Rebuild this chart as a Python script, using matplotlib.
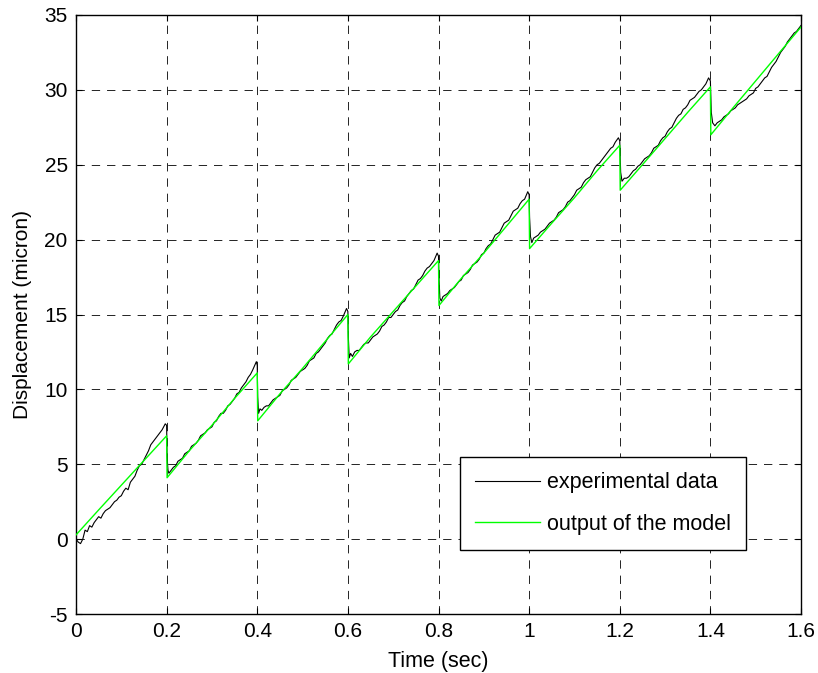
import matplotlib
matplotlib.use("Agg")
import matplotlib.pyplot as plt

# ---------------- data ----------------
exp_t = [0.000, 0.005, 0.010, 0.015, 0.020, 0.025, 0.030, 0.035, 0.040, 0.045,
         0.050, 0.055, 0.060, 0.065, 0.070, 0.075, 0.080, 0.085, 0.090, 0.095,
         0.100, 0.105, 0.110, 0.115, 0.120, 0.125, 0.130, 0.135, 0.140, 0.145,
         0.150, 0.155, 0.160, 0.165, 0.170, 0.175, 0.180, 0.185, 0.190, 0.197,
         0.200, 0.201, 0.203, 0.205, 0.210, 0.215, 0.220, 0.225, 0.230, 0.235,
         0.240, 0.245, 0.250, 0.255, 0.260, 0.265, 0.270, 0.275, 0.280, 0.285,
         0.290, 0.295, 0.300, 0.305, 0.310, 0.315, 0.320, 0.325, 0.330, 0.335,
         0.340, 0.345, 0.350, 0.355, 0.360, 0.365, 0.370, 0.375, 0.380, 0.385,
         0.390, 0.398, 0.400, 0.401, 0.403, 0.406, 0.410, 0.415, 0.420, 0.425,
         0.430, 0.435, 0.440, 0.445, 0.450, 0.455, 0.460, 0.465, 0.470, 0.475,
         0.480, 0.485, 0.490, 0.495, 0.500, 0.505, 0.510, 0.515, 0.520, 0.525,
         0.530, 0.535, 0.540, 0.545, 0.550, 0.555, 0.560, 0.565, 0.570, 0.575,
         0.580, 0.585, 0.590, 0.597, 0.600, 0.601, 0.603, 0.606, 0.610, 0.615,
         0.620, 0.625, 0.630, 0.635, 0.640, 0.645, 0.650, 0.655, 0.660, 0.665,
         0.670, 0.675, 0.680, 0.685, 0.690, 0.695, 0.700, 0.705, 0.710, 0.715,
         0.720, 0.725, 0.730, 0.735, 0.740, 0.745, 0.750, 0.755, 0.760, 0.765,
         0.770, 0.775, 0.780, 0.785, 0.790, 0.797, 0.800, 0.801, 0.803, 0.806,
         0.810, 0.815, 0.820, 0.825, 0.830, 0.835, 0.840, 0.845, 0.850, 0.855,
         0.860, 0.865, 0.870, 0.875, 0.880, 0.885, 0.890, 0.895, 0.900, 0.905,
         0.910, 0.915, 0.920, 0.925, 0.930, 0.935, 0.940, 0.945, 0.950, 0.955,
         0.960, 0.965, 0.970, 0.975, 0.980, 0.985, 0.990, 0.997, 1.000, 1.001,
         1.003, 1.006, 1.010, 1.015, 1.020, 1.025, 1.030, 1.035, 1.040, 1.045,
         1.050, 1.055, 1.060, 1.065, 1.070, 1.075, 1.080, 1.085, 1.090, 1.095,
         1.100, 1.105, 1.110, 1.115, 1.120, 1.125, 1.130, 1.135, 1.140, 1.145,
         1.150, 1.155, 1.160, 1.165, 1.170, 1.175, 1.180, 1.185, 1.190, 1.197,
         1.200, 1.202, 1.205, 1.210, 1.215, 1.220, 1.225, 1.230, 1.235, 1.240,
         1.245, 1.250, 1.255, 1.260, 1.265, 1.270, 1.275, 1.280, 1.285, 1.290,
         1.295, 1.300, 1.305, 1.310, 1.315, 1.320, 1.325, 1.330, 1.335, 1.340,
         1.345, 1.350, 1.355, 1.360, 1.365, 1.370, 1.375, 1.380, 1.385, 1.390,
         1.396, 1.400, 1.402, 1.405, 1.410, 1.415, 1.420, 1.425, 1.430, 1.435,
         1.440, 1.445, 1.450, 1.455, 1.460, 1.465, 1.470, 1.475, 1.480, 1.485,
         1.490, 1.495, 1.500, 1.505, 1.510, 1.515, 1.520, 1.525, 1.530, 1.535,
         1.540, 1.545, 1.550, 1.555, 1.560, 1.565, 1.570, 1.575, 1.580, 1.585,
         1.590, 1.595, 1.600]
exp_y = [0.0, -0.2, -0.3, 0.0, 0.6, 0.5, 0.9, 0.8, 1.1, 1.3,
         1.5, 1.4, 1.7, 1.9, 2.0, 2.1, 2.3, 2.5, 2.6, 2.8,
         2.9, 3.2, 3.4, 3.3, 3.8, 4.0, 4.2, 4.6, 4.9, 5.0,
         5.3, 5.6, 5.9, 6.3, 6.5, 6.7, 6.9, 7.1, 7.3, 7.7,
         7.6, 5.5, 4.6, 4.4, 4.6, 4.8, 4.9, 5.2, 5.3, 5.4,
         5.7, 5.8, 5.9, 6.2, 6.3, 6.4, 6.6, 6.9, 7.0, 7.1,
         7.3, 7.4, 7.5, 7.8, 7.9, 8.2, 8.4, 8.4, 8.6, 8.9,
         9.0, 9.2, 9.4, 9.7, 9.8, 10.1, 10.3, 10.5, 10.8, 11.0,
         11.3, 11.85, 11.6, 9.5, 8.4, 8.7, 8.6, 8.8, 8.9, 8.9,
         9.1, 9.3, 9.4, 9.5, 9.6, 9.9, 10.0, 10.1, 10.3, 10.6,
         10.7, 10.8, 11.0, 11.2, 11.3, 11.4, 11.6, 11.9, 12.0, 12.1,
         12.4, 12.5, 12.7, 12.9, 13.1, 13.4, 13.6, 13.7, 14.0, 14.3,
         14.5, 14.6, 14.9, 15.4, 15.2, 13.5, 12.1, 12.4, 12.2, 12.5,
         12.6, 12.6, 12.8, 13.0, 13.1, 13.1, 13.3, 13.5, 13.6, 13.7,
         13.9, 14.2, 14.3, 14.5, 14.8, 14.8, 15.0, 15.2, 15.3, 15.6,
         15.8, 15.9, 16.2, 16.4, 16.6, 16.7, 17.0, 17.3, 17.4, 17.6,
         17.9, 18.1, 18.2, 18.4, 18.6, 19.1, 18.9, 17.5, 16.1, 15.9,
         16.2, 16.3, 16.4, 16.6, 16.7, 16.8, 17.0, 17.2, 17.3, 17.6,
         17.7, 17.8, 18.0, 18.3, 18.4, 18.5, 18.7, 19.0, 19.1, 19.4,
         19.6, 19.7, 20.0, 20.3, 20.4, 20.5, 20.8, 21.1, 21.2, 21.3,
         21.6, 21.9, 22.0, 22.1, 22.4, 22.6, 22.7, 23.2, 23.0, 21.5,
         20.2, 19.8, 20.1, 20.2, 20.3, 20.5, 20.6, 20.7, 20.9, 21.1,
         21.2, 21.3, 21.5, 21.8, 21.9, 22.0, 22.2, 22.5, 22.6, 22.8,
         23.0, 23.3, 23.4, 23.5, 23.8, 24.0, 24.1, 24.2, 24.5, 24.8,
         25.0, 25.1, 25.3, 25.5, 25.7, 25.9, 26.1, 26.2, 26.5, 26.8,
         26.6, 24.5, 23.9, 24.1, 24.1, 24.2, 24.4, 24.6, 24.7, 24.9,
         25.0, 25.2, 25.4, 25.5, 25.6, 25.8, 26.1, 26.2, 26.3, 26.6,
         26.8, 26.9, 27.2, 27.4, 27.5, 27.8, 28.1, 28.3, 28.4, 28.7,
         28.8, 29.0, 29.3, 29.4, 29.5, 29.7, 29.9, 30.0, 30.2, 30.4,
         30.8, 30.6, 28.5, 27.8, 27.6, 27.8, 27.9, 28.0, 28.2, 28.3,
         28.4, 28.6, 28.7, 28.8, 29.0, 29.1, 29.2, 29.3, 29.4, 29.6,
         29.7, 29.8, 30.1, 30.2, 30.4, 30.6, 30.8, 30.9, 31.2, 31.5,
         31.7, 31.9, 32.2, 32.5, 32.7, 32.9, 33.2, 33.4, 33.6, 33.8,
         33.9, 34.1, 34.3]

model_t = [0.000, 0.050, 0.100, 0.150, 0.200, 0.201, 0.250, 0.300, 0.350, 0.400,
           0.401, 0.450, 0.500, 0.550, 0.600, 0.601, 0.650, 0.700, 0.750, 0.800,
           0.801, 0.850, 0.900, 0.950, 1.000, 1.001, 1.050, 1.100, 1.150, 1.200,
           1.201, 1.250, 1.300, 1.350, 1.400, 1.401, 1.450, 1.500, 1.550, 1.600]
model_y = [0.28, 1.95, 3.6, 5.25, 6.9, 4.1, 5.9, 7.6, 9.4, 11.1,
           7.9, 9.7, 11.4, 13.2, 15.0, 11.7, 13.5, 15.2, 16.9, 18.6,
           15.6, 17.4, 19.1, 20.9, 22.7, 19.4, 21.1, 22.8, 24.6, 26.3,
           23.3, 25.0, 26.75, 28.5, 30.2, 27.0, 28.8, 30.6, 32.4, 34.2]

x_ticks = [0, 0.2, 0.4, 0.6, 0.8, 1, 1.2, 1.4, 1.6]
x_tick_labels = ["0", "0.2", "0.4", "0.6", "0.8", "1", "1.2", "1.4", "1.6"]
y_ticks = [-5, 0, 5, 10, 15, 20, 25, 30, 35]
y_tick_labels = ["-5", "0", "5", "10", "15", "20", "25", "30", "35"]

# ---------------- figure ----------------
plt.rcParams['font.family'] = ['Liberation Sans', 'DejaVu Sans']
plt.rcParams['lines.scale_dashes'] = False

fig = plt.figure(figsize=(8.18, 6.73), dpi=100)
ax = fig.add_axes([76/818, 59/673, 725/818, 599/673])

ax.plot(exp_t, exp_y, color='black', linewidth=0.8, label='experimental data', zorder=3)
ax.plot(model_t, model_y, color='#00ff00', linewidth=1.0, label='output of the model', zorder=4)

ax.set_xlim(0, 1.6)
ax.set_ylim(-5, 35)
ax.set_xticks(x_ticks)
ax.set_xticklabels(x_tick_labels)
ax.set_yticks(y_ticks)
ax.set_yticklabels(y_tick_labels)

ax.grid(True, color='black', linestyle=(0, (6, 5)), linewidth=0.6)
ax.tick_params(direction='in', length=4, width=0.8, top=True, right=True,
               labelsize=15, colors='black', pad=6)
for s in ax.spines.values():
    s.set_linewidth(1.0)
    s.set_color('black')

ax.set_xlabel('Time (sec)', fontsize=15.5, labelpad=7)
ax.set_ylabel('Displacement (micron)', fontsize=15, labelpad=9)

leg = ax.legend(loc='upper left', bbox_to_anchor=(0.5297, 0.2621),
                fontsize=15.5, handlelength=3.0, handletextpad=0.33,
                labelspacing=0.95, borderpad=0.7, fancybox=False,
                framealpha=1, edgecolor='black', borderaxespad=0)
leg.get_frame().set_linewidth(1.0)

fig.savefig('out.png', dpi=100)
